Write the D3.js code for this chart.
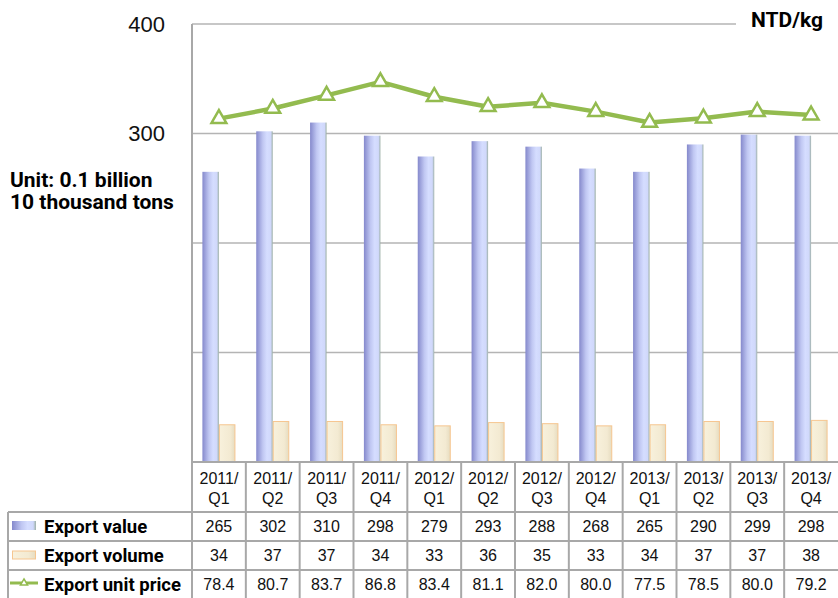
<!DOCTYPE html>
<html>
<head>
<meta charset="utf-8">
<script src="https://cdn.jsdelivr.net/npm/d3@7"></script>
<style>
  body { margin: 0; background: #fff; }
  svg { display: block; }
</style>
</head>
<body>
<div id="chart"></div>
<script>
// Data
const categories = ["2011/Q1", "2011/Q2", "2011/Q3", "2011/Q4", "2012/Q1", "2012/Q2",
  "2012/Q3", "2012/Q4", "2013/Q1", "2013/Q2", "2013/Q3", "2013/Q4"];
const exportValue = [265, 302, 310, 298, 279, 293, 288, 268, 265, 290, 299, 298];
const exportVolume = [34, 37, 37, 34, 33, 36, 35, 33, 34, 37, 37, 38];
const unitPrice = [78.4, 80.7, 83.7, 86.8, 83.4, 81.1, 82.0, 80.0, 77.5, 78.5, 80.0, 79.2];
const leftTicks = [400, 300];
const gridTicks = [300, 200, 100];
const seriesNames = ["Export value", "Export volume", "Export unit price"];

const W = 838, H = 598;
const plot = { left: 192, right: 838, top: 24, bottom: 462 };
const rowY = [462, 512, 541, 570, 598];

const svg = d3.select("#chart").append("svg")
  .attr("width", W)
  .attr("height", H);

const defs = svg.append("defs");
const gValue = defs.append("linearGradient").attr("id", "gValue")
  .attr("x1", 0).attr("x2", 1).attr("y1", 0).attr("y2", 0);
[["0%", "#8589cc"], ["40%", "#c0c7f2"], ["65%", "#d5ddff"], ["88%", "#d0d8fb"], ["100%", "#9db0a6"]]
  .forEach(([o, c]) => gValue.append("stop").attr("offset", o).attr("stop-color", c));
const gVol = defs.append("linearGradient").attr("id", "gVol")
  .attr("x1", 0).attr("x2", 1).attr("y1", 0).attr("y2", 0);
[["0%", "#f8f1dc"], ["70%", "#f3ead2"], ["100%", "#e6dcc0"]]
  .forEach(([o, c]) => gVol.append("stop").attr("offset", o).attr("stop-color", c));

// Scales
const x = d3.scaleBand().domain(categories).range([plot.left, plot.right]).padding(0);
const sub = d3.scaleBand().domain(["value", "volume"]).range([0, x.bandwidth()])
  .paddingInner(0).paddingOuter(0.63);
const y = d3.scaleLinear().domain([0, 400]).range([plot.bottom, plot.top]);
const yRight = d3.scaleLinear().domain([0, 100]).range([plot.bottom, plot.top]);

const gridColor = "#b4b4b4";

// Gridlines
svg.append("line")
  .attr("x1", plot.left).attr("x2", 736)
  .attr("y1", y(400)).attr("y2", y(400))
  .attr("stroke", gridColor).attr("stroke-width", 1.5);
svg.append("g").selectAll("line").data(gridTicks).join("line")
  .attr("x1", plot.left).attr("x2", plot.right)
  .attr("y1", d => y(d)).attr("y2", d => y(d))
  .attr("stroke", gridColor).attr("stroke-width", 1.5);

// Left axis labels
svg.append("g").selectAll("text").data(leftTicks).join("text")
  .attr("x", 165).attr("y", d => y(d))
  .attr("dy", "0.36em")
  .attr("text-anchor", "end")
  .attr("font-family", "Liberation Sans, Arial, sans-serif")
  .attr("font-size", 22)
  .attr("fill", "#111")
  .text(d => d);

const boldFont = "Roboto, 'Noto Sans', sans-serif";
svg.append("text")
  .attr("x", 10).attr("y", 187)
  .attr("font-family", boldFont).attr("font-weight", "bold").attr("font-size", 21)
  .attr("fill", "#000")
  .text("Unit: 0.1 billion");
svg.append("text")
  .attr("x", 10).attr("y", 209)
  .attr("font-family", boldFont).attr("font-weight", "bold").attr("font-size", 21)
  .attr("fill", "#000")
  .text("10 thousand tons");
svg.append("text")
  .attr("x", 823).attr("y", 27)
  .attr("text-anchor", "end")
  .attr("font-family", boldFont).attr("font-weight", "bold").attr("font-size", 21)
  .attr("fill", "#000")
  .text("NTD/kg");

// Bars
const bars = svg.append("g");
bars.selectAll("rect.value").data(categories).join("rect")
  .attr("class", "value")
  .attr("x", (d) => x(d) + sub("value"))
  .attr("width", sub.bandwidth())
  .attr("y", (d, i) => y(exportValue[i]))
  .attr("height", (d, i) => y(0) - y(exportValue[i]))
  .attr("fill", "url(#gValue)");
bars.selectAll("rect.volume").data(categories).join("rect")
  .attr("class", "volume")
  .attr("x", (d) => x(d) + sub("volume") + 0.5)
  .attr("width", sub.bandwidth() - 1)
  .attr("y", (d, i) => y(exportVolume[i]))
  .attr("height", (d, i) => y(0) - y(exportVolume[i]))
  .attr("fill", "url(#gVol)")
  .attr("stroke", "#f6c690")
  .attr("stroke-width", 1);

// Unit price line
const green = "#93bb4f";
const line = d3.line()
  .x((d, i) => x(categories[i]) + x.bandwidth() / 2)
  .y(d => yRight(d));
svg.append("path")
  .datum(unitPrice)
  .attr("d", line)
  .attr("fill", "none")
  .attr("stroke", green)
  .attr("stroke-width", 4.5)
  .attr("stroke-linejoin", "round");
svg.append("g").selectAll("path").data(unitPrice).join("path")
  .attr("d", d3.symbol(d3.symbolTriangle, 95))
  .attr("transform", (d, i) => `translate(${x(categories[i]) + x.bandwidth() / 2},${yRight(d)})`)
  .attr("fill", "#fff")
  .attr("stroke", green)
  .attr("stroke-width", 2.5);

// Table lines
const tcol = "#a8a8a8";
const table = svg.append("g");
// axis vertical
table.append("line")
  .attr("x1", plot.left).attr("x2", plot.left)
  .attr("y1", plot.top).attr("y2", H)
  .attr("stroke", tcol).attr("stroke-width", 2);
table.append("line")
  .attr("x1", plot.left).attr("x2", plot.right)
  .attr("y1", rowY[0]).attr("y2", rowY[0])
  .attr("stroke", tcol).attr("stroke-width", 2);
table.selectAll("line.h").data(rowY.slice(1, 4)).join("line")
  .attr("class", "h")
  .attr("x1", 8).attr("x2", plot.right)
  .attr("y1", d => d).attr("y2", d => d)
  .attr("stroke", tcol).attr("stroke-width", 2);
table.append("line")
  .attr("x1", 8).attr("x2", 8)
  .attr("y1", rowY[1]).attr("y2", H)
  .attr("stroke", tcol).attr("stroke-width", 2);
table.selectAll("line.v").data(categories.slice(1)).join("line")
  .attr("class", "v")
  .attr("x1", d => x(d)).attr("x2", d => x(d))
  .attr("y1", rowY[0]).attr("y2", H)
  .attr("stroke", tcol).attr("stroke-width", 2);

// Table text
const tFont = "Liberation Sans, Arial, sans-serif";
const cx = d => x(d) + x.bandwidth() / 2;
table.selectAll("text.h1").data(categories).join("text")
  .attr("class", "h1")
  .attr("x", cx).attr("y", 484)
  .attr("text-anchor", "middle")
  .attr("font-family", tFont).attr("font-size", 16).attr("fill", "#111")
  .text(d => d.split("/")[0] + "/");
table.selectAll("text.h2").data(categories).join("text")
  .attr("class", "h2")
  .attr("x", cx).attr("y", 504)
  .attr("text-anchor", "middle")
  .attr("font-family", tFont).attr("font-size", 16).attr("fill", "#111")
  .text(d => d.split("/")[1]);

const rows = [
  exportValue.map(v => String(v)),
  exportVolume.map(v => String(v)),
  unitPrice.map(v => v.toFixed(1))
];
rows.forEach((vals, r) => {
  const mid = (rowY[r + 1] + rowY[r + 2]) / 2;
  table.append("g").selectAll("text").data(vals).join("text")
    .attr("x", (d, i) => cx(categories[i]))
    .attr("y", mid)
    .attr("dy", "0.36em")
    .attr("text-anchor", "middle")
    .attr("font-family", tFont).attr("font-size", 16).attr("fill", "#111")
    .text(d => d);
  table.append("text")
    .attr("x", 44).attr("y", mid)
    .attr("dy", "0.36em")
    .attr("font-family", boldFont).attr("font-weight", "bold").attr("font-size", 18.5)
    .attr("fill", "#000")
    .text(seriesNames[r]);
});

// Legend keys
table.append("rect")
  .attr("x", 12).attr("y", 521).attr("width", 24).attr("height", 9)
  .attr("fill", "url(#gValue)");
table.append("rect")
  .attr("x", 12.5).attr("y", 551).attr("width", 23).attr("height", 8)
  .attr("fill", "url(#gVol)")
  .attr("stroke", "#f6c690").attr("stroke-width", 1);
table.append("line")
  .attr("x1", 10).attr("x2", 38)
  .attr("y1", 583).attr("y2", 583)
  .attr("stroke", green).attr("stroke-width", 3);
table.append("path")
  .attr("d", d3.symbol(d3.symbolTriangle, 22))
  .attr("transform", "translate(24,583)")
  .attr("fill", "#fff")
  .attr("stroke", green)
  .attr("stroke-width", 1.5);
</script>
</body>
</html>
